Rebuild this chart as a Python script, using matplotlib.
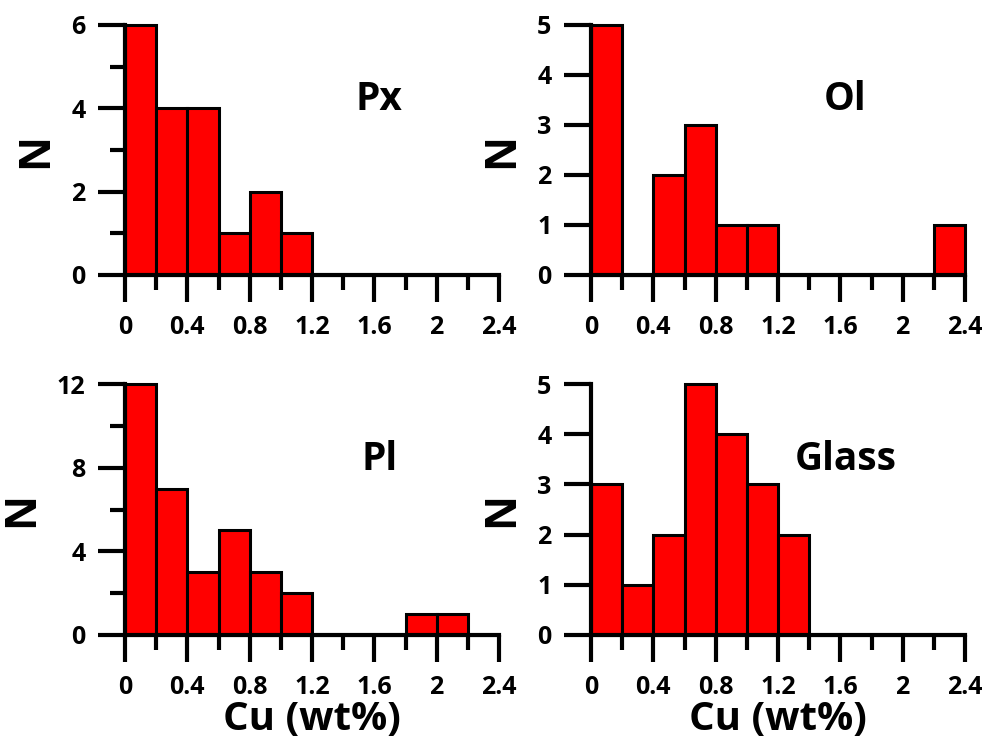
import matplotlib.pyplot as plt
import numpy as np
from matplotlib.ticker import MultipleLocator

plt.rcParams['font.family'] = ['Open Sans', 'DejaVu Sans']
plt.rcParams['font.weight'] = 'bold'

# bin edges (Cu wt%) and counts per 0.2 bin
edges = np.arange(0, 2.41, 0.2)
px_counts = [6, 4, 4, 1, 2, 1, 0, 0, 0, 0, 0, 0]
ol_counts = [5, 0, 2, 3, 1, 1, 0, 0, 0, 0, 0, 1]
pl_counts = [12, 7, 3, 5, 3, 2, 0, 0, 0, 1, 1, 0]
glass_counts = [3, 1, 2, 5, 4, 3, 2, 0, 0, 0, 0, 0]

names = ['Px', 'Ol', 'Pl', 'Glass']
all_counts = [px_counts, ol_counts, pl_counts, glass_counts]
ymax = [6, 5, 12, 5]
ymajor = [2, 1, 4, 1]
yminor = [1, 1, 2, 1]

fig = plt.figure(figsize=(9.82, 7.41), dpi=100)
W, H = 982, 741
# axes boxes in pixels: left, top(of ymax), right, bottom(of 0)
boxes = [(125, 25, 499, 275), (591, 25, 965, 275),
         (125, 384, 499, 635), (591, 384, 965, 635)]

for i in range(4):
    l, t, r, b = boxes[i]
    ax = fig.add_axes([l / W, (H - b) / H, (r - l) / W, (b - t) / H])
    c = all_counts[i]
    ax.bar(edges[:-1], c, width=0.2, align='edge', color='#ff0000',
           edgecolor='black', linewidth=2.2, clip_on=False, zorder=3)
    ax.set_xlim(0, 2.4)
    ax.set_ylim(0, ymax[i])
    ax.xaxis.set_major_locator(MultipleLocator(0.4))
    ax.xaxis.set_minor_locator(MultipleLocator(0.2))
    ax.yaxis.set_major_locator(MultipleLocator(ymajor[i]))
    ax.yaxis.set_minor_locator(MultipleLocator(yminor[i]))
    ax.set_xticks([0, 0.4, 0.8, 1.2, 1.6, 2.0, 2.4])
    ax.set_xticklabels(['0', '0.4', '0.8', '1.2', '1.6', '2', '2.4'])
    for s in ['top', 'right']:
        ax.spines[s].set_visible(False)
    for s in ['left', 'bottom']:
        ax.spines[s].set_linewidth(3)
        ax.spines[s].set_zorder(4)
    ax.tick_params(which='major', direction='out', length=19.5, width=3,
                   labelsize=18, pad=9)
    ax.tick_params(which='minor', direction='out', length=11, width=3)
    for lab in ax.get_xticklabels() + ax.get_yticklabels():
        lab.set_fontweight('bold')
    ax.set_ylabel('N', fontsize=31, fontweight='bold', labelpad=10)
    ax.text(0.68, 0.70, names[i], transform=ax.transAxes, fontsize=28,
            fontweight='bold', ha='center', va='center')
    if i >= 2:
        ax.set_xlabel('Cu (wt%)', fontsize=29, fontweight='bold', labelpad=0)

fig.savefig('out.png', dpi=100)
